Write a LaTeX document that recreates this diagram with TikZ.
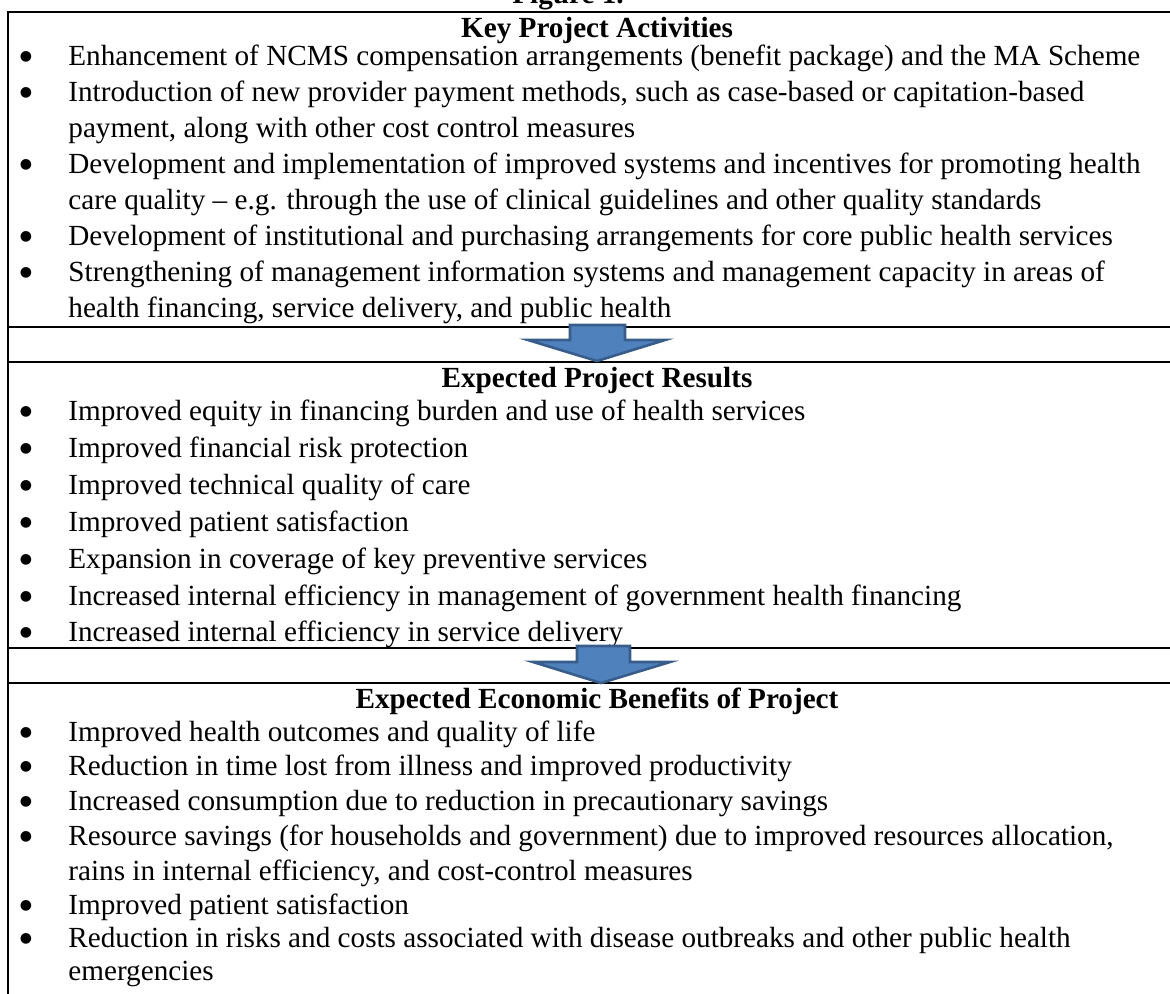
\documentclass[tikz,border=0pt]{standalone}
\usepackage{fontspec}
\setmainfont{Liberation Serif}
\newfontfamily\dotfont{DejaVu Sans}
\definecolor{arrowfill}{HTML}{4F81BD}
\definecolor{arrowedge}{HTML}{385D8A}
\begin{document}
\begin{tikzpicture}[x=0.5pt,y=-0.5pt,
  txt/.style={anchor=base west,inner sep=0pt,font=\fontsize{14.6pt}{17pt}\selectfont},
  bul/.style={anchor=base,inner sep=0pt,yshift=2.2pt,font=\dotfont\fontsize{7pt}{8pt}\selectfont},
  head/.style={anchor=base,inner sep=0pt,font=\fontsize{14.6pt}{17pt}\selectfont\bfseries},
  rule/.style={line width=1.2pt},
  downarrow/.style={draw=arrowedge,fill=arrowfill,line width=1.3pt,line join=miter}]
\useasboundingbox (0,0) rectangle (1170,993);

% frame lines
\coordinate (tl) at (8,12);
\coordinate (tr) at (1175,12);
\coordinate (bl) at (8,998);
\coordinate (s1l) at (8,327);  \coordinate (s1r) at (1175,327);
\coordinate (g1l) at (8,362);  \coordinate (g1r) at (1175,362);
\coordinate (s2l) at (8,648);  \coordinate (s2r) at (1175,648);
\coordinate (g2l) at (8,683);  \coordinate (g2r) at (1175,683);
\draw[rule] (tr) -- (tl) -- (bl);
\draw[rule] (s1l) -- (s1r);
\draw[rule] (g1l) -- (g1r);
\draw[rule] (s2l) -- (s2r);
\draw[rule] (g2l) -- (g2r);

% figure caption
\node[head] (fig) at (568,3) {Figure 1.};

% section 1
\node[head] (h1) at (597,37) {Key Project Activities};
\foreach \y in {65,101,173,245,281} \node[bul] at (26,\y) {●};
\node[txt] (a1) at (68,65) {Enhancement of NCMS compensation arrangements (benefit package) and the MA Scheme};
\node[txt] (a2) at (68,101) {Introduction of new provider payment methods, such as case-based or capitation-based};
\node[txt] (a3) at (68,137) {payment, along with other cost control measures};
\node[txt] (a4) at (68,173) {Development and implementation of improved systems and incentives for promoting health};
\node[txt] (a5) at (68,209) {care quality – e.g. through the use of clinical guidelines and other quality standards};
\node[txt] (a6) at (68,245) {Development of institutional and purchasing arrangements for core public health services};
\node[txt] (a7) at (68,281) {Strengthening of management information systems and management capacity in areas of};
\node[txt] (a8) at (68,317) {health financing, service delivery, and public health};

% arrow 1
\draw[downarrow] (570,325) -- (625,325) -- (625,340) -- (665,340) -- (597,361) -- (528,340) -- (570,340) -- cycle;

% section 2
\node[head] (h2) at (597,387) {Expected Project Results};
\foreach \y in {420,457,494,531,568,605,641} \node[bul] at (26,\y) {●};
\node[txt] (b1) at (68,420) {Improved equity in financing burden and use of health services};
\node[txt] (b2) at (68,457) {Improved financial risk protection};
\node[txt] (b3) at (68,494) {Improved technical quality of care};
\node[txt] (b4) at (68,531) {Improved patient satisfaction};
\node[txt] (b5) at (68,568) {Expansion in coverage of key preventive services};
\node[txt] (b6) at (68,605) {Increased internal efficiency in management of government health financing};
\node[txt] (b7) at (68,641) {Increased internal efficiency in service delivery};

% arrow 2
\draw[downarrow] (577,646) -- (630,646) -- (630,662) -- (670,662) -- (601,683) -- (533,662) -- (577,662) -- cycle;

% section 3
\node[head] (h3) at (597,708) {Expected Economic Benefits of Project};
\foreach \y in {741,775,810,845,914,947} \node[bul] at (26,\y) {●};
\node[txt] (c1) at (68,741) {Improved health outcomes and quality of life};
\node[txt] (c2) at (68,775) {Reduction in time lost from illness and improved productivity};
\node[txt] (c3) at (68,810) {Increased consumption due to reduction in precautionary savings};
\node[txt] (c4) at (68,845) {Resource savings (for households and government) due to improved resources allocation,};
\node[txt] (c5) at (68,880) {rains in internal efficiency, and cost-control measures};
\node[txt] (c6) at (68,914) {Improved patient satisfaction};
\node[txt] (c7) at (68,947) {Reduction in risks and costs associated with disease outbreaks and other public health};
\node[txt] (c8) at (68,980) {emergencies};
\end{tikzpicture}
\end{document}
